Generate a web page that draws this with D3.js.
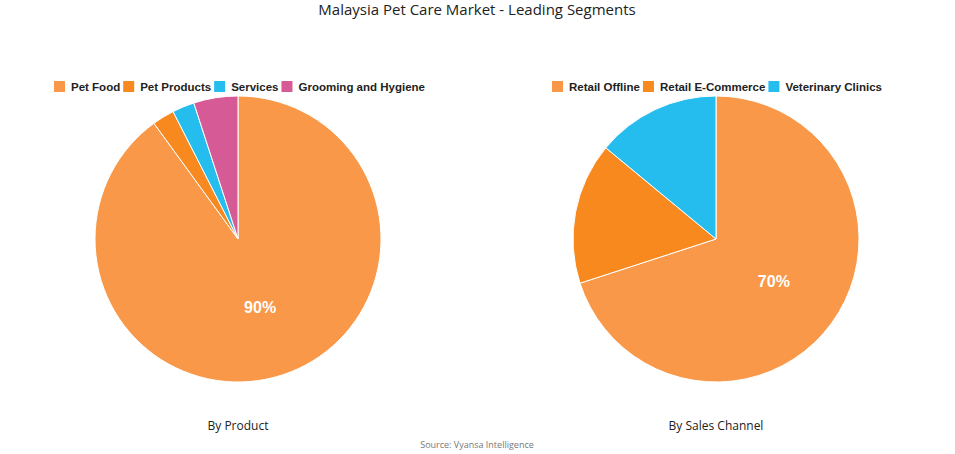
<!DOCTYPE html>
<html><head><meta charset="utf-8">
<script src="https://cdn.jsdelivr.net/npm/d3@7"></script>
<style>body{margin:0;background:#fff}</style></head>
<body><svg id="c" width="955" height="454"></svg>
<script>
const productCats = ["Pet Food","Pet Products","Services","Grooming and Hygiene"];
const productVals = [90,2.5,2.5,5];
const channelCats = ["Retail Offline","Retail E-Commerce","Veterinary Clinics"];
const channelVals = [70,16,14];
const colors = ["#F89848","#F7891F","#25BCEE","#D65A95"];

const svg = d3.select("#c");
svg.append("text").attr("x",477).attr("y",15).attr("text-anchor","middle")
  .attr("font-family","Open Sans, sans-serif").attr("font-size",15).attr("fill","#222")
  .text("Malaysia Pet Care Market - Leading Segments");
svg.append("text").attr("x",477).attr("y",448).attr("text-anchor","middle")
  .attr("font-family","Open Sans, sans-serif").attr("font-size",9).attr("fill","#777")
  .text("Source: Vyansa Intelligence");

function drawPie(cx, cats, vals, legendX, title){
  const r = 143, cy = 239;
  const g = svg.append("g").attr("transform",`translate(${cx},${cy})`);
  const pie = d3.pie().sort(null)(vals);
  const arc = d3.arc().innerRadius(0).outerRadius(r);
  g.selectAll("path").data(pie).join("path").attr("d",arc)
    .attr("fill",(d,i)=>colors[i]).attr("stroke","#fff").attr("stroke-width",1);
  const lab = d3.arc().innerRadius(r*0.5).outerRadius(r*0.5);
  g.append("text").attr("transform",`translate(${lab.centroid(pie[0])})`)
    .attr("text-anchor","middle").attr("dy","0.35em")
    .attr("font-family","Liberation Sans, Arial, sans-serif").attr("font-weight","bold")
    .attr("font-size",16).attr("fill","#fff").text(vals[0]+"%");
  svg.append("text").attr("x",cx).attr("y",430).attr("text-anchor","middle")
    .attr("font-family","Open Sans, sans-serif").attr("font-size",12).attr("fill","#222").text(title);
  let x = legendX;
  const lg = svg.append("g");
  cats.forEach((c,i)=>{
    lg.append("rect").attr("x",x).attr("y",81).attr("width",11).attr("height",11).attr("fill",colors[i]);
    const t = lg.append("text").attr("x",x+17).attr("y",91)
      .attr("font-family","Liberation Sans, Arial, sans-serif").attr("font-weight","bold")
      .attr("font-size",11.5).attr("fill","#222").text(c);
    x += 17 + t.node().getComputedTextLength() + 3;
  });
}
drawPie(238, productCats, productVals, 54, "By Product");
drawPie(716, channelCats, channelVals, 552, "By Sales Channel");
</script></body></html>
